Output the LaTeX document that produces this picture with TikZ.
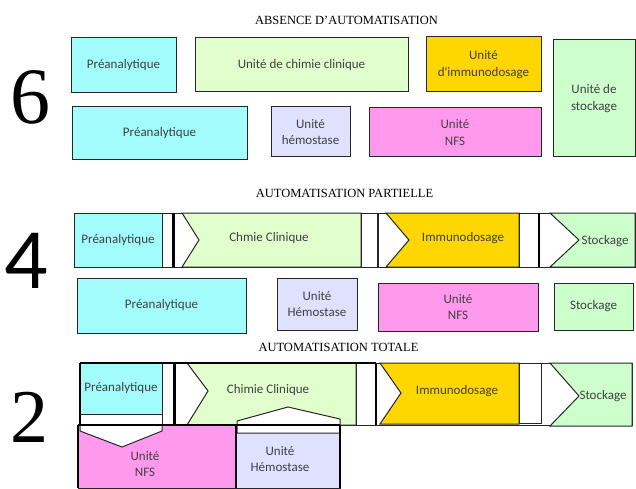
\documentclass[tikz,border=0pt]{standalone}
\usepackage{fontspec}
\setmainfont{Liberation Serif}
\newfontfamily\calfont{Carlito}
\definecolor{cyanbox}{HTML}{A3FCFC}
\definecolor{chimie}{HTML}{E0FFCC}
\definecolor{immuno}{HTML}{FFD700}
\definecolor{stock}{HTML}{CCFFCC}
\definecolor{hemo}{HTML}{E0E0FF}
\definecolor{nfs}{HTML}{FF99EE}
\definecolor{txt}{HTML}{404040}
\tikzset{
  box/.style={draw=black!85, line width=1pt, inner sep=0pt, align=center,
    font=\calfont\fontsize{13}{16.5}\selectfont, text=txt},
  lbl/.style={inner sep=0pt, align=center, font=\calfont\fontsize{13}{16.5}\selectfont, text=txt},
  edge/.style={draw=black!85, line width=1pt},
  thick edge/.style={draw=black, line width=2.2pt},
  title/.style={inner sep=0pt, font=\fontsize{12.5}{14}\selectfont},
  bigdigit/.style={inner sep=0pt}
}
\begin{document}
\begin{tikzpicture}[x=1pt,y=-1pt]
\useasboundingbox[fill=white] (0,0) rectangle (636,489);

% ---------------- Section 6 ----------------
\node[title] (t1) at (346.5,20) {ABSENCE D'AUTOMATISATION};
\node[bigdigit] (d6) at (30.5,97.5) {\fontsize{80}{80}\selectfont 6};
\node[box, fill=cyanbox, minimum width=105pt, minimum height=55pt] (p1) at (123.5,65.5) {Préanalytique};
\node[box, fill=chimie, minimum width=213pt, minimum height=54pt] (c1) at (301.5,65) {Unité de chimie clinique};
\node[box, fill=immuno, minimum width=115pt, minimum height=55pt] (i1) at (483.5,64.5) {Unité\\d'immunodosage};
\node[box, fill=stock, minimum width=82pt, minimum height=117pt] (s1) at (594,98.5) {Unité de\\stockage};
\node[box, fill=cyanbox, minimum width=175pt, minimum height=52pt] (p2) at (159.5,133) {Préanalytique};
\node[box, fill=hemo, minimum width=79pt, minimum height=50pt] (h1) at (310.5,132) {Unité\\hémostase};
\node[box, fill=nfs, minimum width=172pt, minimum height=49pt] (n1) at (455,132.5) {Unité\\NFS};

% ---------------- Section 4 ----------------
\node[title] (t2) at (344.5,193) {AUTOMATISATION PARTIELLE};
\node[bigdigit] (d4) at (26.5,260.5) {\calfont\fontsize{86}{86}\selectfont 4};
\path[edge, fill=white] (74,213) rectangle (635,267);
\node[box, fill=cyanbox, minimum width=88pt, minimum height=54pt] (p3) at (118,240) {Préanalytique};
\path[edge, fill=white] (162,213) rectangle (172,267);
\path[thick edge] (173.5,213) -- (173.5,267);
\path[edge, fill=chimie] (182,213) -- (361,213) -- (361,267) -- (182,267) -- (199,240) -- cycle;
\node[lbl] (c2) at (269,238) {Chmie Clinique};
\path[edge, fill=white] (361,213) rectangle (377,267);
\path[edge] (378.5,213) -- (378.5,267);
\path[edge, fill=immuno] (386,213) -- (519,213) -- (519,267) -- (386,267) -- (409,240) -- cycle;
\node[lbl] (i2) at (463,238) {Immunodosage};
\path[edge, fill=white] (519,213) rectangle (538,267);
\path[thick edge] (539,213) -- (539,267);
\path[edge, fill=stock] (550,213) -- (635,213) -- (635,267) -- (550,267) -- (579,240) -- cycle;
\node[lbl] (s2) at (605,241) {Stockage};

\node[box, fill=cyanbox, minimum width=169pt, minimum height=55pt] (p4) at (161.5,305.5) {Préanalytique};
\node[box, fill=hemo, minimum width=80pt, minimum height=52pt] (h2) at (317,304) {Unité\\Hémostase};
\node[box, fill=nfs, minimum width=160pt, minimum height=48pt] (n2) at (458,307) {Unité\\NFS};
\node[box, fill=stock, minimum width=79pt, minimum height=47pt] (s3) at (593.5,306.5) {Stockage};

% ---------------- Section 2 ----------------
\node[title] (t3) at (338.5,347) {AUTOMATISATION TOTALE};
\node[bigdigit] (d2) at (29.5,417.5) {\fontsize{76}{76}\selectfont 2};
\path[edge, fill=white] (80,363) rectangle (632,425);
\node[box, fill=cyanbox, minimum width=82pt, minimum height=51pt] (p5) at (121,388.5) {Préanalytique};
\path[edge, fill=white] (80,414) rectangle (162,425);
\path[edge, fill=white] (162,363) rectangle (173,425);
\path[thick edge] (174.5,363) -- (174.5,425);
\path[edge, fill=chimie] (187,363) -- (356,363) -- (356,425) -- (187,425) -- (208,391) -- cycle;
\node[lbl] (c3) at (268,390) {Chimie Clinique};
\path[edge, fill=white] (356,363) rectangle (375,425);
\path[thick edge] (376,363) -- (376,425);
\path[edge, fill=immuno] (380,363) -- (519,363) -- (519,424) -- (380,424) -- (401,393) -- cycle;
\node[lbl] (i3) at (457,391) {Immunodosage};
\path[edge, fill=white] (519,363) rectangle (541,423);
\path[edge, fill=stock] (550,363) -- (632,363) -- (632,426) -- (550,426) -- (579,396) -- cycle;
\node[lbl] (s4) at (603,396) {Stockage};
\path[thick edge] (80,363) -- (376,363);
\path[thick edge] (80,363) -- (80,425);

% lower units
\path[edge, fill=nfs] (78,425) rectangle (236,488);
\path[edge, fill=white] (80,425) -- (162,425) -- (162,431) -- (122,447) -- (80,431) -- cycle;
\node[lbl] (n3) at (145,464) {Unité\\NFS};
\path[edge, fill=hemo] (236,425) rectangle (340,488);
\path[edge, fill=white] (237,433) -- (237,421) -- (288,407) -- (340,419) -- (340,433) -- cycle;
\node[lbl] (h3) at (280,459) {Unité\\Hémostase};
\path[thick edge] (78,425) -- (340,425);
\path[thick edge] (236,425) -- (236,488);
\path[thick edge] (340,425) -- (340,488);
\path[thick edge] (78,425) -- (78,488);
\end{tikzpicture}
\end{document}
